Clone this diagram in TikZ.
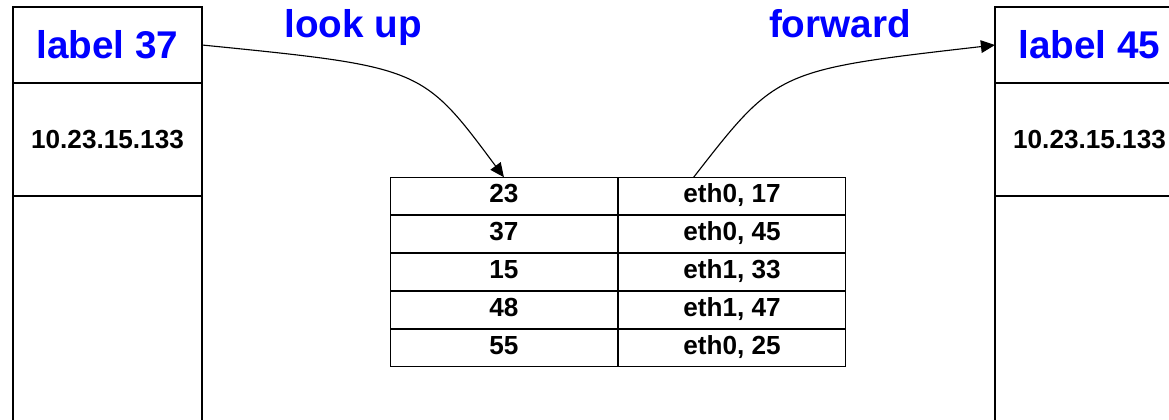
\documentclass[tikz,border=0pt]{standalone}
\usepackage{fontspec}
\setmainfont{Liberation Sans}
\usetikzlibrary{positioning,matrix,arrows.meta}
\tikzstyle{hdr}=[rectangle, draw=black, line width=1pt, outer sep=0pt, minimum width=4.725cm, minimum height=1.9cm, text=blue, font=\fontsize{27.5}{30}\selectfont\bfseries]
\tikzstyle{ipbox}=[rectangle, draw=black, line width=1pt, outer sep=0pt, minimum width=4.725cm, minimum height=2.825cm, font=\fontsize{18.6}{21}\selectfont\bfseries]
\tikzstyle{cell}=[rectangle, draw=black, line width=0.8pt, outer sep=0pt, anchor=center, text height=13pt, text depth=3.5pt, minimum width=5.675cm, minimum height=0.925cm, font=\fontsize{18.6}{21}\selectfont\bfseries]
\tikzstyle{opname}=[text=blue, anchor=base, font=\fontsize{27.5}{30}\selectfont\bfseries]
\tikzstyle{hop}=[-{Triangle[length=10pt,width=9pt]}, line width=0.8pt]

\begin{document}
\begin{tikzpicture}[x=0.025cm, y=-0.025cm]
  \useasboundingbox (0,0) rectangle (1169,420);
  \clip (0,0) rectangle (1169,420);

  \node [hdr] at (107.5,45) (hdrL) {label 37};
  \node [ipbox, below=0pt of hdrL] (ipL) {10.23.15.133};
  \node [hdr] at (1089.5,45) (hdrR) {label 45};
  \node [ipbox, below=0pt of hdrR] (ipR) {10.23.15.133};

  \coordinate (bot) at (0,430);
  \draw [line width=1pt] (ipL.south west) -- (ipL.south west |- bot);
  \draw [line width=1pt] (ipL.south east) -- (ipL.south east |- bot);
  \draw [line width=1pt] (ipR.south west) -- (ipR.south west |- bot);
  \draw [line width=1pt] (ipR.south east) -- (ipR.south east |- bot);

  \matrix [matrix of nodes, nodes={cell}, column sep=0pt, row sep=0pt] at (618,272) (lfib) {
    23 & eth0, 17 \\
    37 & eth0, 45 \\
    15 & eth1, 33 \\
    48 & eth1, 47 \\
    55 & eth0, 25 \\
  };

  \node [opname] at (353,38) (lookup) {look up};
  \node [opname] at (840,38) (fwd) {forward};

  \draw [hop] (hdrL.east) .. controls (422,67) .. (lfib-1-1.north);
  \draw [hop] ([xshift=-0.96cm]lfib-1-2.north) .. controls (777,70) .. (hdrR.west);
\end{tikzpicture}
\end{document}
